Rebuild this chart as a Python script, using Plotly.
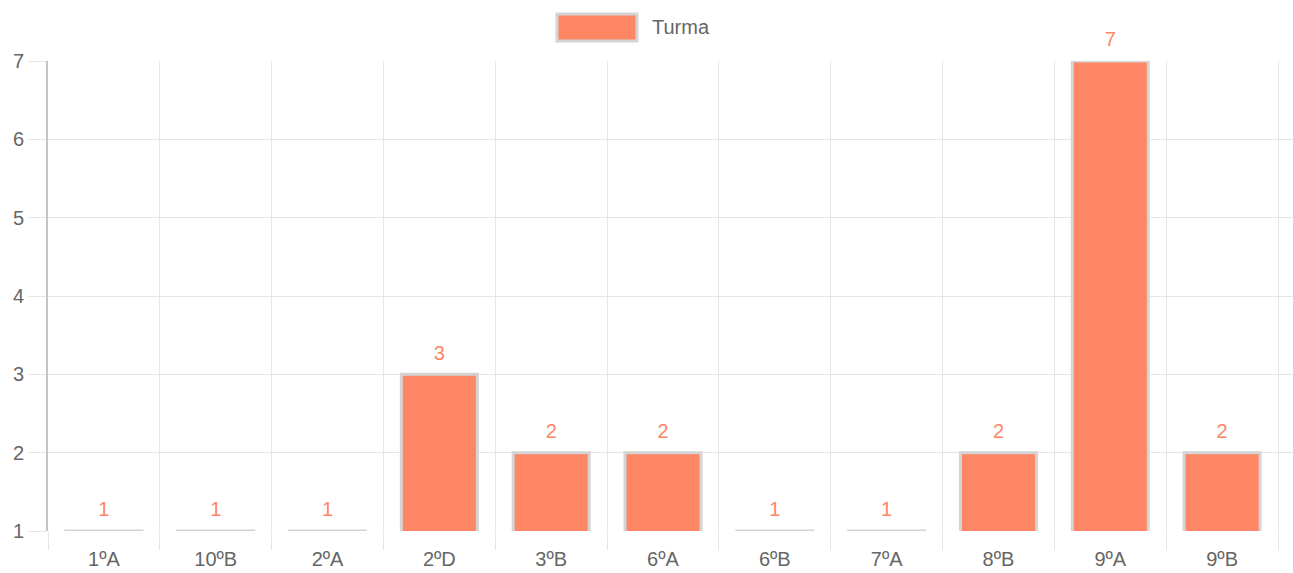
import plotly.graph_objects as go

turmas = ["1ºA", "10ºB", "2ºA", "2ºD", "3ºB", "6ºA", "6ºB", "7ºA", "8ºB", "9ºA", "9ºB"]
alunos = [1, 1, 1, 3, 2, 2, 1, 1, 2, 7, 2]

CORAL = "#ff8664"
GRID = "#e6e6e6"
FONT = "Liberation Sans, Arial, sans-serif"

fig = go.Figure()
fig.add_trace(
    go.Bar(
        x=turmas,
        y=alunos,
        name="Turma",
        width=0.68,
        marker=dict(color=CORAL, line=dict(color="#d4d4d4", width=3)),
        showlegend=False,
        hoverinfo="x+y",
    )
)
# value labels above each bar
fig.add_trace(
    go.Scatter(
        x=turmas,
        y=alunos,
        mode="markers+text",
        text=[str(v) for v in alunos],
        textposition="top center",
        textfont=dict(color=CORAL, size=20, family=FONT),
        marker=dict(size=14, opacity=0),
        cliponaxis=False,
        showlegend=False,
        hoverinfo="skip",
    )
)

# legend swatch drawn like the Chart.js legend box
fig.add_shape(
    type="rect", xref="paper", yref="paper",
    x0=0.4088, x1=0.4731, y0=1.0426, y1=1.1,
    fillcolor=CORAL, line=dict(color="#d4d4d4", width=3),
)
fig.add_annotation(
    text="Turma", xref="paper", yref="paper", x=0.4835, y=1.0723,
    xanchor="left", yanchor="middle", showarrow=False,
    font=dict(size=20, color="#666", family=FONT),
)

fig.update_layout(
    width=1293,
    height=573,
    margin=dict(l=48, r=0, t=61, b=42),
    plot_bgcolor="white",
    paper_bgcolor="white",
    font=dict(family=FONT, size=20, color="#666"),
)
fig.update_xaxes(
    type="category",
    range=[-0.5, 10.634],
    tickson="boundaries",
    showgrid=True,
    gridcolor=GRID,
    gridwidth=1,
    ticks="outside",
    ticklen=18,
    tickcolor=GRID,
    ticklabelstandoff=14,
    showline=False,
    zeroline=False,
    automargin=False,
    tickfont=dict(size=20, color="#666"),
)
fig.update_yaxes(
    range=[1, 7],
    dtick=1,
    showgrid=True,
    gridcolor=GRID,
    ticks="outside",
    ticklen=18,
    tickcolor=GRID,
    showline=True,
    linecolor="#c4c4c4",
    linewidth=2,
    zeroline=False,
    automargin=False,
    tickfont=dict(size=20, color="#666"),
)

fig.write_html(
    "out.html",
    config={"displayModeBar": False},
    post_script="document.body.style.margin = '0';",
)
